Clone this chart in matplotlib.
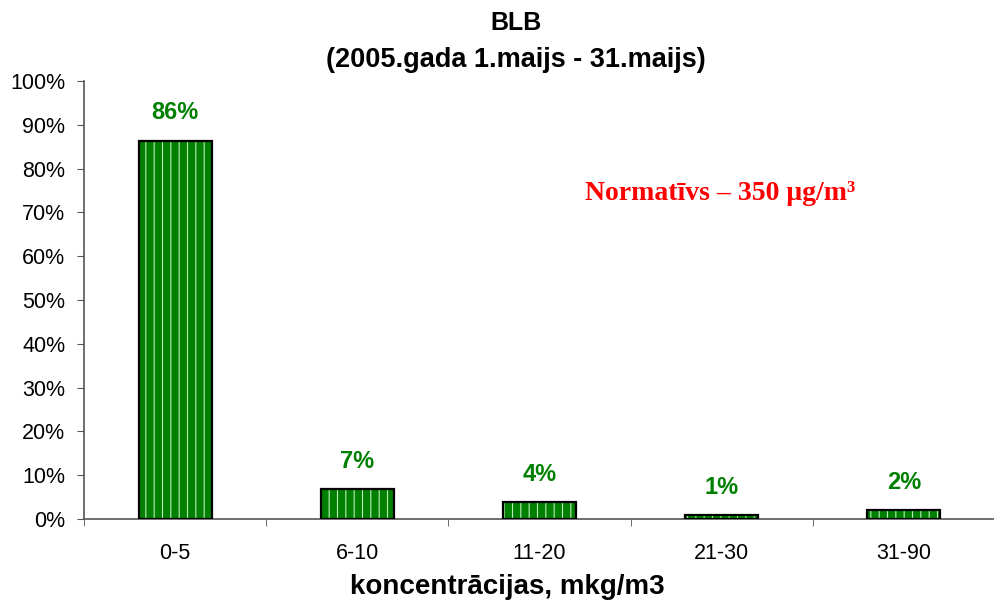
import matplotlib
matplotlib.use("Agg")
import matplotlib.pyplot as plt
from matplotlib.ticker import PercentFormatter

categories = ["0-5", "6-10", "11-20", "21-30", "31-90"]
values = [86.4, 6.8, 3.9, 0.9, 2.0]
yticks = [0, 10, 20, 30, 40, 50, 60, 70, 80, 90, 100]

plt.rcParams['font.family'] = ['Liberation Sans', 'DejaVu Sans']
plt.rcParams['hatch.color'] = '#b8f0b8'
plt.rcParams['hatch.linewidth'] = 0.8

W, H = 995, 601
fig = plt.figure(figsize=(W / 100, H / 100), dpi=100)
ax = fig.add_axes([84 / W, 1 - 519 / H, (W - 84) / W, (519 - 81) / H])

x = list(range(len(categories)))
green = '#008000'
ax.bar(x, values, width=0.40, color=green, edgecolor='#b8f0b8', hatch='||', linewidth=0, zorder=2)
ax.bar(x, values, width=0.40, facecolor='none', edgecolor='black', linewidth=1.6, zorder=3)

for xi, v in zip(x, values):
    ax.text(xi, v + 6.3, f"{v:.0f}%", ha='center', va='center', color=green,
            fontsize=17, fontweight='bold')

ax.set_xlim(-0.5, 4.45)
ax.set_ylim(0, 100)
ax.set_yticks(yticks)
ax.yaxis.set_major_formatter(PercentFormatter(decimals=0))
ax.set_xticks(x)
ax.set_xticklabels(categories, fontsize=15.5)
ax.set_xticks([i + 0.5 for i in range(-1, len(categories))], minor=True)
ax.tick_params(axis='x', which='major', length=0, pad=17)
ax.tick_params(axis='x', which='minor', length=5, direction='out', color='#555555')
ax.tick_params(axis='y', labelsize=15.5, length=5, direction='out', color='#555555', pad=8.5)
for s in ['top', 'right']:
    ax.spines[s].set_visible(False)
for s in ['left', 'bottom']:
    ax.spines[s].set_color('#555555')
    ax.spines[s].set_linewidth(1.2)

fig.text(516 / W, 1 - 23 / H, "BLB", ha='center', va='center', fontsize=18, fontweight='bold')
fig.text(516 / W, 1 - 60 / H, "(2005.gada 1.maijs - 31.maijs)", ha='center', va='center',
         fontsize=19.5, fontweight='bold')
fig.text(507 / W, 1 - 587 / H, "koncentrācijas, mkg/m3", ha='center', va='center',
         fontsize=20, fontweight='bold')
fig.text(585 / W, 1 - 200 / H, "Normatīvs – 350 μg/m³", ha='left', va='baseline',
         fontsize=20, fontweight='bold', color='red',
         family=['Liberation Serif', 'DejaVu Serif'])

fig.savefig("out.png", dpi=100)
